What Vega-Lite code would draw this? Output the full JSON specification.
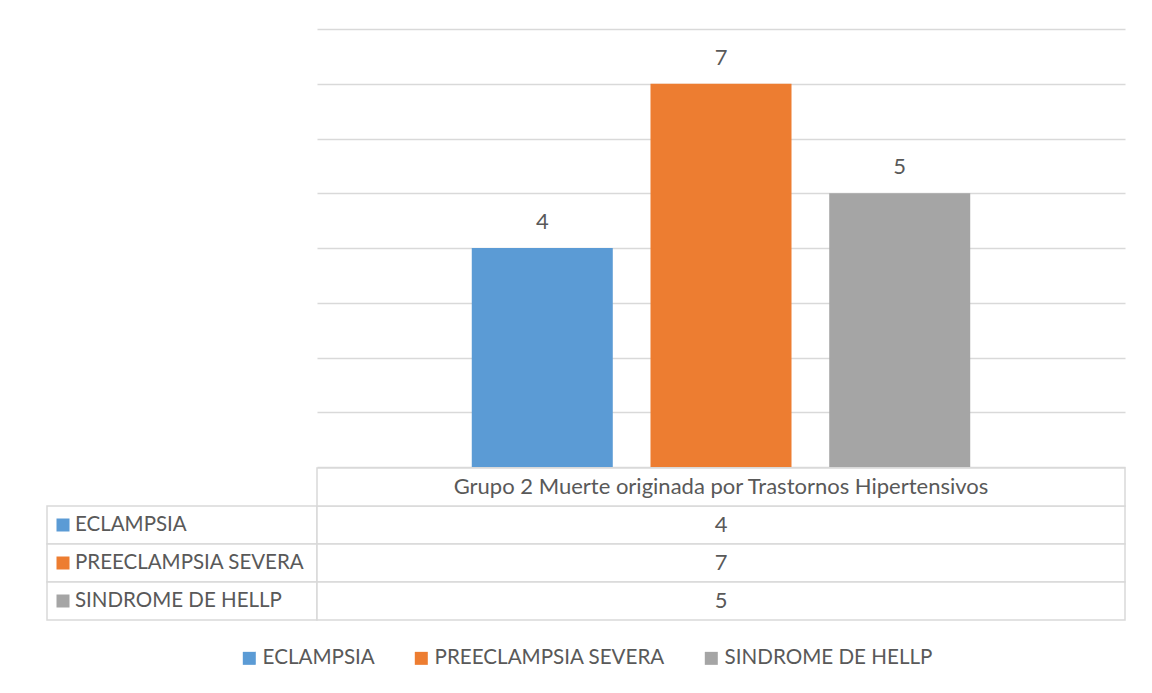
{
  "$schema": "https://vega.github.io/schema/vega-lite/v6.json",
  "background": "white",
  "padding": {"left": 46, "top": 29, "right": 28, "bottom": 10},
  "config": {
    "view": {"stroke": null},
    "font": "Lato",
    "text": {"font": "Lato"},
    "legend": {"layout": {"bottom": {"anchor": "middle"}}}
  },
  "datasets": {
    "d": [
      {"group": "Grupo 2 Muerte originada por Trastornos Hipertensivos", "cause": "ECLAMPSIA", "value": 4},
      {"group": "Grupo 2 Muerte originada por Trastornos Hipertensivos", "cause": "PREECLAMPSIA SEVERA", "value": 7},
      {"group": "Grupo 2 Muerte originada por Trastornos Hipertensivos", "cause": "SINDROME DE HELLP", "value": 5}
    ]
  },
  "spacing": 0,
  "vconcat": [
    {
      "spacing": 0,
      "bounds": "flush",
      "hconcat": [
        {
          "width": 270,
          "height": 438,
          "data": {"values": []},
          "mark": "point",
          "encoding": {}
        },
        {
          "width": 808,
          "height": 438,
          "data": {"name": "d"},
          "encoding": {
            "x": {"field": "cause", "type": "nominal", "sort": null, "axis": null,
                  "scale": {"paddingInner": 0.211, "paddingOuter": 0.866}},
            "y": {"field": "value", "type": "quantitative", "scale": {"domain": [0, 8]},
                  "axis": {"labels": false, "ticks": false, "domain": false, "title": null,
                           "tickCount": 8, "grid": true, "gridColor": "#d9d9d9", "gridWidth": 1.3}}
          },
          "layer": [
            {
              "mark": {"type": "bar"},
              "encoding": {
                "color": {"field": "cause", "type": "nominal", "sort": null,
                  "scale": {"domain": ["ECLAMPSIA", "PREECLAMPSIA SEVERA", "SINDROME DE HELLP"],
                            "range": ["#5B9BD5", "#ED7D31", "#A5A5A5"]},
                  "legend": {"title": null, "orient": "bottom", "direction": "horizontal",
                             "symbolType": "square", "symbolSize": 169, "symbolStrokeWidth": 0,
                             "labelFontSize": 20.6, "labelColor": "#595959", "labelFont": "Lato",
                             "labelLimit": 0, "columnPadding": 36, "labelOffset": 3, "offset": 27}}
              }
            },
            {
              "mark": {"type": "text", "baseline": "bottom", "dy": -14, "fontSize": 22, "color": "#595959"},
              "encoding": {"text": {"field": "value", "type": "quantitative"}}
            }
          ]
        }
      ]
    },
    {
      "spacing": 0,
      "bounds": "flush",
      "hconcat": [
        {
          "width": 270,
          "height": 152,
          "data": {"name": "d"},
          "encoding": {
            "y": {"field": "cause", "type": "nominal", "axis": null,
                  "scale": {"domain": ["Grupo 2 Muerte originada por Trastornos Hipertensivos", "ECLAMPSIA", "PREECLAMPSIA SEVERA", "SINDROME DE HELLP"],
                            "paddingInner": 0, "paddingOuter": 0}}
          },
          "layer": [
            {
              "mark": {"type": "rect", "fill": "white", "stroke": "#d9d9d9", "strokeWidth": 1.5},
              "encoding": {
                "x": {"datum": 0, "type": "quantitative", "scale": {"domain": [0, 1]}, "axis": null},
                "x2": {"datum": 1}
              }
            },
            {
              "mark": {"type": "square", "size": 169, "filled": true, "opacity": 1, "xOffset": 16},
              "encoding": {
                "x": {"datum": 0, "type": "quantitative"},
                "color": {"field": "cause", "type": "nominal", "sort": null}
              }
            },
            {
              "mark": {"type": "text", "align": "left", "dx": 28, "fontSize": 20.5, "color": "#595959"},
              "encoding": {
                "x": {"datum": 0, "type": "quantitative"},
                "text": {"field": "cause"}
              }
            }
          ]
        },
        {
          "width": 808,
          "height": 152,
          "data": {"name": "d"},
          "layer": [
            {
              "encoding": {
                "y": {"field": "cause", "type": "nominal", "axis": null,
                      "scale": {"domain": ["Grupo 2 Muerte originada por Trastornos Hipertensivos", "ECLAMPSIA", "PREECLAMPSIA SEVERA", "SINDROME DE HELLP"],
                                "paddingInner": 0, "paddingOuter": 0}}
              },
              "layer": [
                {
                  "mark": {"type": "rect", "fill": "white", "stroke": "#d9d9d9", "strokeWidth": 1.5},
                  "encoding": {
                    "x": {"datum": 0, "type": "quantitative", "scale": {"domain": [0, 1]}, "axis": null},
                    "x2": {"datum": 1}
                  }
                },
                {
                  "mark": {"type": "text", "fontSize": 22, "color": "#595959"},
                  "encoding": {
                    "x": {"datum": 0.5, "type": "quantitative"},
                    "text": {"field": "value", "type": "quantitative"}
                  }
                }
              ]
            },
            {
              "transform": [{"aggregate": [{"op": "count", "as": "n"}], "groupby": ["group"]}],
              "encoding": {
                "y": {"field": "group", "type": "nominal", "axis": null}
              },
              "layer": [
                {
                  "mark": {"type": "rect", "fill": "white", "stroke": "#d9d9d9", "strokeWidth": 1.5},
                  "encoding": {
                    "x": {"datum": 0, "type": "quantitative"},
                    "x2": {"datum": 1}
                  }
                },
                {
                  "mark": {"type": "text", "fontSize": 22, "color": "#595959"},
                  "encoding": {
                    "x": {"datum": 0.5, "type": "quantitative"},
                    "text": {"field": "group"}
                  }
                }
              ]
            }
          ]
        }
      ]
    }
  ]
}
